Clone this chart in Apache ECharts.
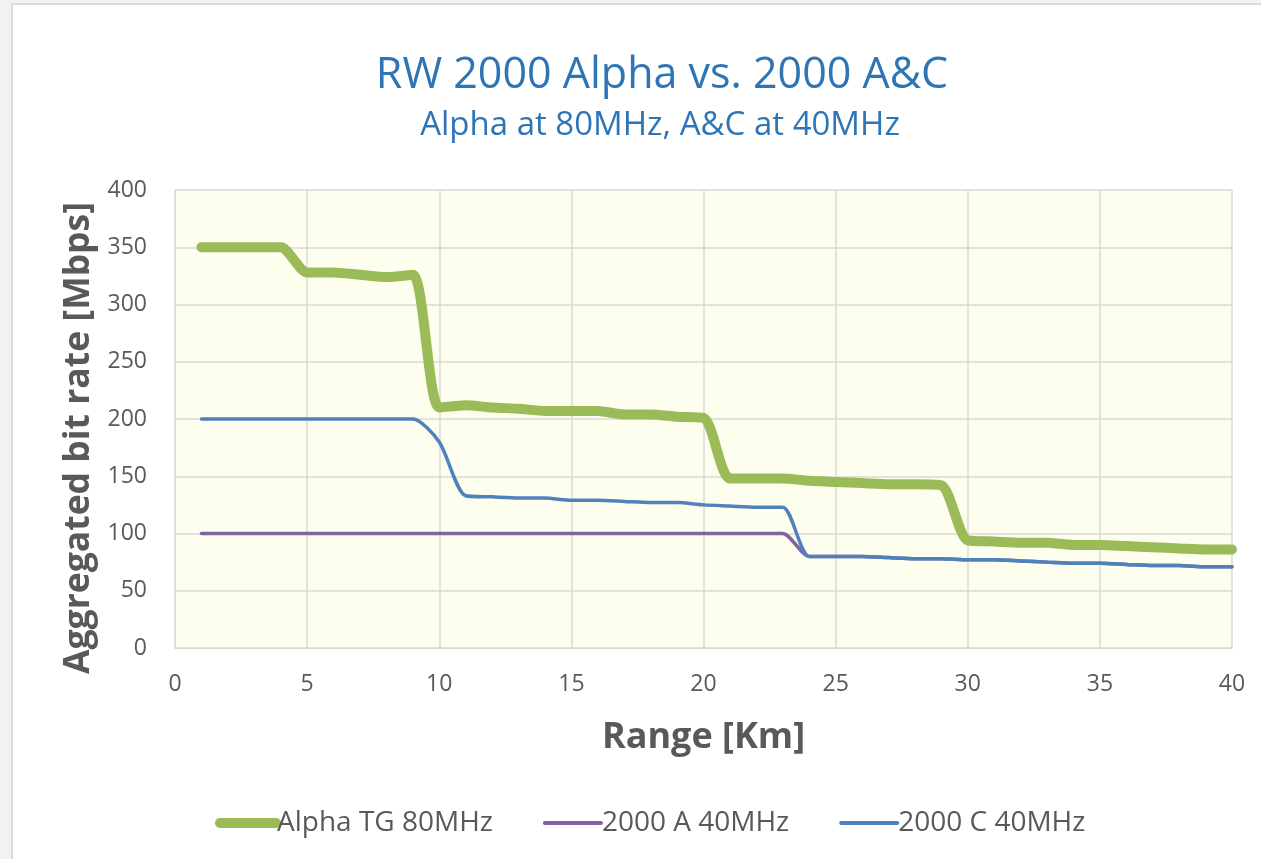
<!DOCTYPE html>
<html>
<head>
<meta charset="utf-8">
<script src="https://cdn.jsdelivr.net/npm/echarts@6/dist/echarts.min.js"></script>
<style>
  html, body { margin: 0; padding: 0; background: #f2f2f2; overflow: hidden; }
  #card { position: absolute; left: 11px; top: 3px; width: 1300px; height: 900px; background: #fff; border: 2px solid #dcdcdc; }
  #chart { position: absolute; left: 0; top: 0; width: 1261px; height: 859px; }
</style>
</head>
<body>
<div id="card"></div>
<div id="chart"></div>
<script>
const rangeKm = [1, 2, 3, 4, 5, 6, 7, 8, 9, 10, 11, 12, 13, 14, 15, 16, 17, 18, 19, 20,
  21, 22, 23, 24, 25, 26, 27, 28, 29, 30, 31, 32, 33, 34, 35, 36, 37, 38, 39, 40]
const alphaTG = [350, 350, 350, 350, 328, 328, 326, 324, 326, 210, 212, 210, 209, 207, 207, 207, 204, 204, 202, 201,
  148, 148, 148, 146, 145, 144, 143, 143, 142, 94, 93, 92, 92, 90, 90, 89, 88, 87, 86, 86]
const rw2000A = [100, 100, 100, 100, 100, 100, 100, 100, 100, 100, 100, 100, 100, 100, 100, 100, 100, 100, 100, 100,
  100, 100, 100, 80, 80, 80, 79, 78, 78, 77, 77, 76, 75, 74, 74, 73, 72, 72, 71, 71]
const rw2000C = [200, 200, 200, 200, 200, 200, 200, 200, 200, 180, 133, 132, 131, 131, 129, 129, 128, 127, 127, 125,
  124, 123, 123, 80, 80, 80, 79, 78, 78, 77, 77, 76, 75, 74, 74, 73, 72, 72, 71, 71]
const seriesNames = ['Alpha TG 80MHz', '2000 A 40MHz', '2000 C 40MHz']
const seriesColors = ['#9BBB59', '#8064A2', '#4F81BD']
const seriesWidths = [10, 3.5, 3.5]

const font = 'Open Sans'
const toPairs = vals => rangeKm.map((x, i) => [x, vals[i]])

const chart = echarts.init(document.getElementById('chart'))
const option = {
    title: [
        {
            text: 'RW 2000 Alpha vs. 2000 A&C',
            left: 657, top: 49, textAlign: 'center',
            textStyle: { fontFamily: font, fontSize: 43, fontWeight: 'normal', color: '#2E75B6' }
        },
        {
            text: 'Alpha at 80MHz, A&C at 40MHz',
            left: 655, top: 104, textAlign: 'center',
            textStyle: { fontFamily: font, fontSize: 33, fontWeight: 'normal', color: '#2E75B6' }
        }
    ],
    grid: { left: 175, top: 190, width: 1057, height: 458 },
    xAxis: {
        type: 'value', min: 0, max: 40, interval: 5,
        name: 'Range [Km]', nameLocation: 'middle', nameGap: 72,
        nameTextStyle: { fontFamily: font, fontSize: 36, fontWeight: 'bold', color: '#595959' },
        axisLine: { show: true, lineStyle: { color: '#d9d9d9' } },
        axisTick: { show: false },
        axisLabel: { fontFamily: font, fontSize: 23, color: '#595959', margin: 25 },
        splitLine: { show: true, lineStyle: { color: '#d9d9d9', width: 1.5 } }
    },
    yAxis: {
        type: 'value', min: 0, max: 400, interval: 50,
        name: 'Aggregated bit rate [Mbps]', nameLocation: 'middle', nameGap: 78,
        nameTextStyle: { fontFamily: font, fontSize: 35.5, fontWeight: 'bold', color: '#595959', padding: [0, 38, 0, 0] },
        axisLine: { show: true, lineStyle: { color: '#d9d9d9' } },
        axisTick: { show: false },
        axisLabel: { fontFamily: font, fontSize: 23, color: '#595959', margin: 28 },
        splitLine: { show: true, lineStyle: { color: '#d9d9d9', width: 1.5 } }
    },
    legend: {
        bottom: 17, left: 210, itemWidth: 56, itemHeight: 14, itemGap: 50,
        itemStyle: { color: 'transparent', borderWidth: 0 },
        textStyle: { fontFamily: font, fontSize: 28, color: '#595959', padding: [0, 0, 0, -4] },
        data: seriesNames.map((name, i) => ({
            name: name,
            lineStyle: { color: seriesColors[i], width: i === 0 ? 10 : 4, cap: 'round' }
        }))
    },
    series: seriesNames.map((name, i) => ({
        name: name, type: 'line', smooth: 0.25, symbol: 'none',
        lineStyle: { color: seriesColors[i], width: seriesWidths[i], cap: 'round' },
        itemStyle: { color: seriesColors[i] },
        data: toPairs([alphaTG, rw2000A, rw2000C][i])
    })),
    graphic: [{
        type: 'rect', z: -1, silent: true,
        shape: { x: 175, y: 190, width: 1057, height: 458 },
        style: { fill: '#FEFEEE' }
    }],
    animation: false
}
chart.setOption(option)
</script>
</body>
</html>
